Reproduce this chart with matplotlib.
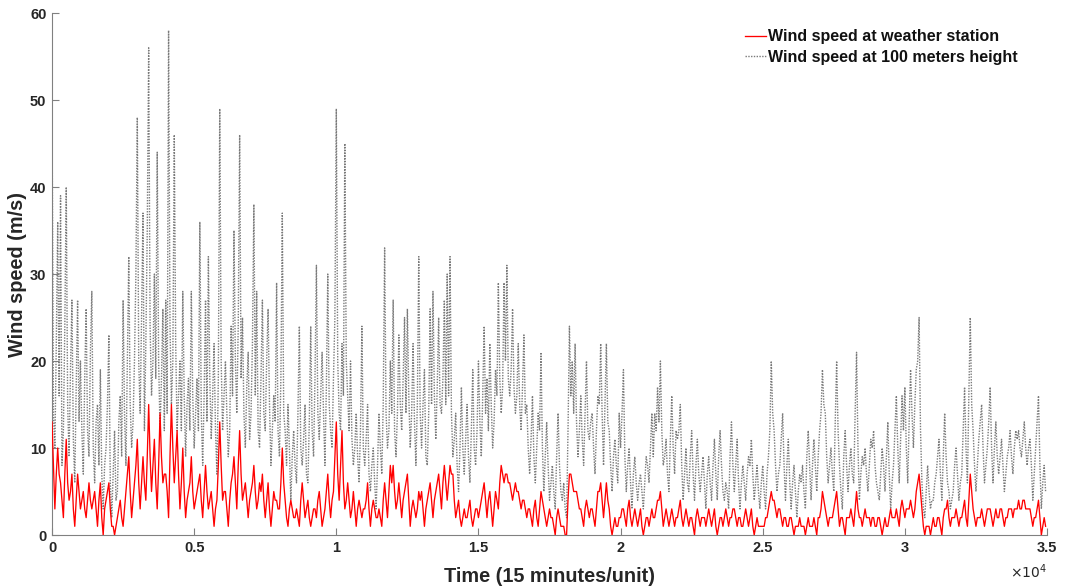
import numpy as np
import matplotlib.pyplot as plt

plt.rcParams['font.family'] = ['Liberation Sans', 'DejaVu Sans']

# readings sampled every 50 time units (15 min each), one row per 1000 units
step = 50

station_speed = [
    13, 8, 3, 7, 10, 7, 6, 4, 2, 7, 11, 6, 4, 5, 7, 3, 1, 4, 7, 5,
    3, 4, 5, 3, 2, 4, 6, 4, 3, 4, 5, 3, 1, 4, 6, 2, 0, 3, 4, 5,
    6, 3, 1, 1, 0, 1, 2, 3, 4, 2, 1, 3, 5, 7, 9, 5, 2, 4, 6, 8,
    11, 6, 3, 6, 9, 6, 4, 9, 15, 9, 5, 8, 11, 6, 3, 8, 14, 9, 6, 7,
    7, 5, 2, 9, 15, 10, 6, 9, 12, 7, 3, 6, 10, 5, 2, 4, 5, 6, 9, 5,
    3, 4, 5, 6, 7, 4, 2, 5, 8, 5, 3, 4, 5, 3, 1, 3, 4, 8, 13, 8,
    4, 5, 5, 3, 1, 4, 6, 7, 9, 6, 3, 8, 12, 7, 4, 5, 6, 4, 2, 4,
    5, 6, 8, 5, 3, 4, 6, 5, 7, 4, 2, 4, 6, 3, 1, 3, 5, 4, 4, 3,
    3, 6, 10, 6, 4, 2, 1, 3, 4, 3, 2, 2, 3, 2, 1, 4, 6, 4, 2, 3,
    4, 2, 1, 2, 3, 3, 2, 4, 5, 3, 1, 2, 3, 5, 7, 4, 2, 4, 5, 9,
    13, 7, 4, 8, 12, 6, 3, 4, 6, 4, 2, 3, 5, 3, 1, 3, 4, 3, 2, 3,
    3, 4, 6, 3, 1, 3, 4, 3, 2, 2, 3, 2, 1, 4, 6, 4, 2, 5, 8, 6,
    8, 5, 3, 4, 6, 4, 2, 4, 5, 6, 7, 4, 1, 3, 4, 3, 2, 3, 5, 4,
    5, 3, 1, 3, 4, 5, 6, 4, 2, 4, 5, 6, 7, 5, 3, 6, 8, 6, 4, 6,
    8, 7, 7, 4, 2, 3, 4, 2, 1, 2, 3, 2, 2, 3, 4, 2, 1, 2, 3, 3,
    2, 3, 4, 5, 6, 4, 2, 4, 5, 3, 1, 3, 5, 4, 3, 6, 8, 7, 6, 7,
    7, 6, 6, 5, 4, 5, 6, 5, 5, 4, 3, 4, 4, 3, 2, 3, 3, 2, 1, 3,
    4, 2, 1, 3, 5, 4, 3, 2, 1, 2, 3, 2, 2, 1, 0, 2, 3, 2, 1, 1,
    1, 0, 0, 4, 7, 7, 6, 5, 5, 5, 4, 3, 3, 2, 1, 3, 4, 3, 2, 3,
    3, 2, 1, 3, 5, 5, 6, 4, 2, 4, 6, 4, 3, 1, 0, 1, 2, 1, 1, 2,
    2, 3, 3, 2, 1, 3, 4, 2, 1, 2, 3, 2, 1, 2, 3, 1, 0, 1, 2, 2,
    1, 2, 3, 2, 2, 3, 4, 4, 5, 3, 1, 2, 3, 2, 1, 2, 3, 2, 1, 2,
    2, 3, 4, 2, 1, 2, 3, 2, 1, 2, 2, 1, 0, 2, 3, 2, 1, 2, 2, 2,
    1, 2, 3, 2, 1, 2, 3, 1, 0, 1, 2, 2, 1, 2, 3, 2, 1, 2, 2, 3,
    3, 2, 1, 2, 2, 1, 1, 2, 3, 2, 1, 2, 3, 1, 0, 1, 2, 1, 1, 1,
    1, 1, 2, 2, 3, 4, 5, 4, 4, 3, 2, 3, 3, 2, 1, 2, 2, 1, 1, 2,
    2, 1, 0, 1, 1, 1, 2, 1, 1, 1, 0, 1, 2, 1, 1, 1, 2, 1, 0, 2,
    2, 3, 5, 4, 3, 2, 1, 2, 2, 2, 3, 4, 5, 3, 1, 2, 2, 1, 0, 2,
    2, 2, 3, 2, 1, 3, 5, 3, 2, 2, 1, 2, 3, 2, 2, 2, 1, 2, 2, 1,
    1, 2, 2, 1, 0, 1, 2, 1, 1, 2, 3, 2, 2, 2, 3, 2, 1, 3, 4, 3,
    2, 3, 3, 3, 4, 3, 2, 3, 5, 6, 7, 5, 3, 1, 0, 1, 1, 1, 0, 1,
    2, 1, 1, 2, 2, 1, 0, 2, 3, 3, 4, 2, 1, 2, 2, 2, 3, 2, 1, 2,
    2, 3, 4, 2, 1, 4, 7, 5, 3, 2, 1, 2, 2, 2, 3, 2, 1, 2, 3, 3,
    3, 2, 1, 2, 3, 2, 2, 3, 3, 2, 1, 2, 2, 3, 3, 3, 2, 3, 3, 3,
    4, 3, 3, 4, 4, 3, 3, 3, 3, 2, 1, 2, 2, 3, 4, 2, 0, 1, 2, 1,
]

height_speed = [
    49, 14, 10, 22, 36, 16, 39, 8, 12, 24, 40, 15, 9, 19, 27, 11, 6, 17, 27, 13,
    20, 12, 7, 18, 26, 12, 9, 21, 28, 10, 6, 13, 15, 8, 19, 7, 3, 8, 10, 15,
    23, 6, 2, 7, 12, 4, 5, 13, 16, 9, 27, 14, 8, 20, 32, 15, 10, 13, 20, 30,
    48, 20, 14, 25, 37, 12, 22, 35, 56, 24, 16, 20, 30, 18, 44, 20, 12, 18, 26, 12,
    27, 14, 58, 24, 15, 20, 46, 22, 12, 16, 20, 12, 28, 16, 9, 15, 18, 12, 28, 16,
    10, 14, 18, 12, 36, 14, 8, 16, 27, 13, 32, 18, 11, 16, 22, 12, 7, 18, 49, 20,
    12, 16, 20, 14, 9, 12, 24, 16, 35, 20, 14, 24, 46, 18, 25, 14, 10, 17, 21, 11,
    14, 22, 38, 16, 28, 12, 10, 18, 27, 14, 12, 20, 26, 15, 8, 12, 16, 13, 29, 12,
    9, 18, 37, 14, 12, 8, 15, 10, 4, 9, 12, 8, 6, 14, 24, 10, 8, 11, 15, 7,
    6, 13, 24, 12, 9, 18, 31, 14, 11, 16, 21, 14, 8, 17, 30, 15, 12, 10, 18, 25,
    49, 20, 14, 12, 22, 16, 45, 20, 16, 12, 20, 11, 8, 10, 14, 9, 6, 12, 24, 10,
    8, 11, 15, 7, 5, 8, 10, 6, 3, 8, 14, 10, 7, 15, 33, 14, 10, 12, 20, 14,
    27, 12, 9, 14, 23, 15, 12, 18, 25, 14, 26, 16, 10, 14, 22, 13, 8, 15, 32, 14,
    10, 15, 19, 9, 8, 14, 26, 15, 28, 16, 11, 17, 25, 15, 14, 18, 27, 15, 30, 16,
    32, 14, 9, 11, 14, 8, 5, 10, 17, 10, 7, 11, 15, 9, 6, 12, 19, 10, 8, 12,
    20, 13, 9, 16, 24, 14, 18, 12, 22, 15, 10, 13, 19, 16, 29, 18, 14, 17, 29, 20,
    31, 18, 16, 19, 26, 17, 14, 16, 22, 15, 12, 17, 23, 14, 15, 10, 7, 11, 16, 9,
    6, 10, 14, 12, 21, 10, 5, 9, 13, 8, 4, 6, 8, 5, 3, 9, 14, 8, 5, 4,
    6, 3, 2, 12, 24, 16, 20, 14, 22, 13, 9, 12, 16, 11, 8, 14, 20, 12, 11, 13,
    14, 10, 7, 12, 16, 15, 22, 14, 8, 15, 22, 13, 12, 8, 5, 9, 11, 8, 6, 14,
    10, 14, 19, 9, 5, 8, 10, 6, 3, 7, 9, 6, 4, 6, 7, 5, 3, 6, 9, 8,
    6, 10, 14, 9, 14, 12, 17, 13, 20, 12, 8, 9, 11, 7, 5, 11, 16, 10, 7, 12,
    11, 12, 15, 8, 4, 7, 10, 6, 5, 9, 12, 7, 4, 8, 11, 7, 5, 7, 9, 6,
    3, 7, 9, 6, 4, 8, 11, 7, 4, 9, 12, 8, 5, 4, 6, 5, 3, 9, 13, 8,
    5, 8, 11, 6, 3, 6, 8, 6, 4, 7, 9, 8, 11, 7, 4, 6, 8, 5, 3, 6,
    8, 5, 3, 7, 9, 12, 20, 14, 12, 8, 5, 7, 8, 11, 14, 8, 4, 8, 11, 6,
    3, 6, 8, 5, 2, 5, 7, 6, 8, 5, 3, 9, 12, 8, 4, 8, 11, 8, 5, 9,
    12, 14, 19, 15, 14, 9, 6, 8, 10, 7, 5, 13, 20, 12, 8, 5, 3, 9, 12, 8,
    5, 8, 10, 7, 6, 14, 21, 10, 4, 7, 9, 8, 10, 7, 5, 8, 11, 10, 12, 8,
    6, 5, 4, 7, 10, 8, 5, 9, 13, 7, 3, 6, 8, 12, 16, 10, 6, 11, 16, 12,
    17, 10, 6, 13, 19, 14, 10, 15, 19, 20, 25, 12, 6, 3, 2, 5, 8, 5, 3, 4,
    4, 6, 7, 9, 11, 7, 4, 9, 14, 9, 6, 5, 3, 4, 5, 8, 10, 7, 4, 6,
    7, 12, 17, 10, 6, 16, 25, 15, 12, 8, 5, 8, 11, 13, 15, 10, 6, 8, 10, 13,
    17, 10, 6, 10, 13, 9, 7, 9, 11, 8, 5, 7, 9, 10, 12, 9, 7, 10, 12, 11,
    12, 10, 9, 11, 13, 10, 8, 10, 11, 8, 4, 7, 10, 13, 16, 8, 3, 6, 8, 5,
]

xtick_values = [0, 5000, 10000, 15000, 20000, 25000, 30000, 35000]
xtick_labels = ['0', '0.5', '1', '1.5', '2', '2.5', '3', '3.5']
ytick_values = [0, 10, 20, 30, 40, 50, 60]

t = np.arange(len(station_speed)) * step

fig = plt.figure(figsize=(10.66, 5.86), dpi=100)
ax = fig.add_axes([0.0488, 0.087, 0.9334, 0.8908])

ax.plot(t, station_speed, color='#ff0000', lw=0.95, zorder=3,
        label='Wind speed at weather station')
ax.plot(t, height_speed, color='#7a7a7a', lw=1.0, ls=(0, (1, 1)), zorder=2,
        label='Wind speed at 100 meters height')

ax.set_xlim(0, 35000)
ax.set_ylim(0, 60)
ax.set_xticks(xtick_values)
ax.set_xticklabels(xtick_labels)
ax.set_yticks(ytick_values)

for s in ['top', 'right']:
    ax.spines[s].set_visible(False)
for s in ['left', 'bottom']:
    ax.spines[s].set_color('#808080')
    ax.spines[s].set_linewidth(0.8)

ax.tick_params(direction='in', length=5, width=0.8, color='#808080',
               labelsize=10.5, labelcolor='#262626', pad=4)
for lbl in ax.get_xticklabels() + ax.get_yticklabels():
    lbl.set_fontweight('bold')

ax.set_xlabel('Time (15 minutes/unit)', fontsize=14.3, fontweight='bold',
              color='#262626')
ax.xaxis.set_label_coords(0.5, -0.062)
ax.set_ylabel('Wind speed (m/s)', fontsize=14.3, fontweight='bold',
              color='#262626')
ax.yaxis.set_label_coords(-0.025, 0.5)
ax.text(1.0, -0.052, r'$\times10^{4}$', transform=ax.transAxes,
        ha='right', va='top', fontsize=10, color='#262626')

leg = ax.legend(loc='upper right', bbox_to_anchor=(0.985, 0.996), frameon=False,
                handlelength=1.3, handletextpad=0.15, labelspacing=0.32,
                prop={'weight': 'bold', 'size': 11.5})
for txt in leg.get_texts():
    txt.set_color('#111111')

fig.savefig('out.png', dpi=100, facecolor='white')
